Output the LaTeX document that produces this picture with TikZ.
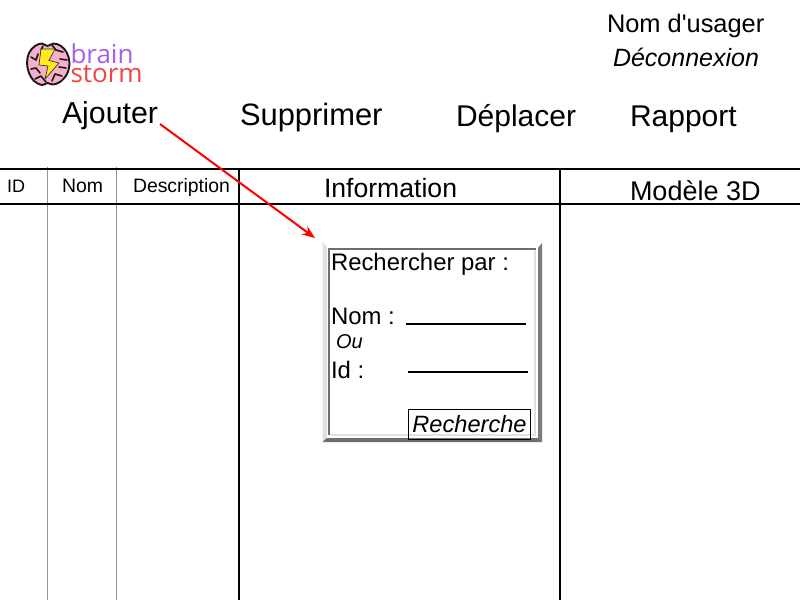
\documentclass[tikz,border=0pt]{standalone}
\usepackage{fontspec}
\setmainfont{Liberation Sans}
\newfontfamily\plainfont{Liberation Sans}
\newfontfamily\logofont{Open Sans}
\usetikzlibrary{arrows.meta}
\definecolor{logopurple}{HTML}{A55FEB}
\definecolor{logored}{HTML}{EF4444}
\definecolor{brainpink}{HTML}{F7B0CC}
\definecolor{boltyellow}{HTML}{FFEB1A}
\definecolor{bevelgray}{HTML}{6E6E6E}
\definecolor{bevellight}{HTML}{E0E0E0}
\tikzset{
  txt/.style={inner sep=0pt,outer sep=0pt,anchor=base west,text=black},
  fs/.style={font=\fontsize{#1}{#1}\selectfont},
  menu/.style={txt,fs=30},
  colhead/.style={txt,fs=19.4},
  form/.style={txt,fs=23.9},
  rule/.style={draw=black,line width=2pt},
  thin rule/.style={draw=gray!85,line width=1pt},
  fold/.style={draw=black!90,line width=1.6pt,line cap=round,line join=round},
}
\begin{document}
\begin{tikzpicture}[x=1pt,y=-1pt]
\useasboundingbox (0,0) rectangle (800,600);
\fill[white] (0,0) rectangle (800,600);
% table
\draw[thin rule] (47,167) -- (47,600);
\draw[thin rule] (116,167) -- (116,600);
\draw[rule] (0,169) -- (800,169);
\draw[rule] (0,204) -- (800,204);
\draw[rule] (239,169) -- (239,600);
\draw[rule] (560,169) -- (560,600);
% header
\node[txt,font=\fontsize{25.4}{25.4}\plainfont] (user) at (607,32) {Nom d'usager};
\node[txt,font=\fontsize{25}{25}\selectfont\itshape] (logout) at (613,66) {Déconnexion};
% logo
\draw[fill=brainpink,draw=black!90,line width=1.9pt] plot[smooth cycle,tension=.6] coordinates {(47.5,46) (53.5,43.5) (61,46) (67,53) (69.5,63) (67,74) (60,82) (52.5,84.5) (47.5,83) (42,85) (34,81) (29,73) (27,63) (29,53) (35,46) (42,43.5)};
\draw[fold] (31,57) -- (36,60) -- (38,54);
\draw[fold] (31,69) -- (36,68) -- (40,73);
\draw[fold] (35,79) -- (41,76) -- (46,82);
\draw[fold] (43,46) -- (41,50);
\draw[fold] (52,45) -- (56,50) -- (63,52);
\draw[fold] (67,60) -- (60,59);
\draw[fold] (59,67) -- (66,68);
\draw[fold] (52,81) -- (55,74) -- (62,76);
\draw[fill=boltyellow,draw=black!80,line width=.7pt] (41,49) -- (55,49) -- (49,60.5) -- (59,63) -- (45,79) -- (48,66) -- (39,65) -- cycle;
\node[txt,text=logopurple,font=\fontsize{26}{26}\logofont] (brain) at (70.5,63.5) {brain};
\node[txt,text=logored,font=\fontsize{26}{26}\logofont] (storm) at (70.5,82.5) {storm};
% menu
\node[menu,fs=30.3] (add) at (62,123) {Ajouter};
\node[menu,fs=30.9] (del) at (240,125) {Supprimer};
\node[menu] (move) at (456,126) {Déplacer};
\node[menu] (report) at (630,126) {Rapport};
% column heads
\node[colhead,fs=18] (cid) at (7,192) {ID};
\node[colhead] (cnom) at (62,192) {Nom};
\node[colhead] (cdesc) at (133,192) {Description};
\node[txt,fs=26.6] (cinfo) at (324,197) {Information};
\node[txt,fs=27] (c3d) at (630,200) {Modèle 3D};
% dialog
\fill[bevellight] (322.5,242) -- (327,247) -- (327,438) -- (322.5,442) -- cycle;
\fill[bevelgray!90] (542,243) -- (538,248) -- (538,438) -- (542,442) -- cycle;
\fill[bevelgray] (322.5,442) -- (542,442) -- (538,438) -- (327,438) -- cycle;
\fill[bevelgray] (328,248) rectangle (536,250);
\fill[bevelgray] (328,248) rectangle (330,435);
\fill[bevellight] (534,250) rectangle (536,436);
\fill[bevellight] (330,434) rectangle (536,436);
\node[form] (title) at (331,270) {Rechercher par :};
\node[form] (lnom) at (331,324) {Nom :};
\node[txt,font=\fontsize{20}{20}\selectfont\itshape] (lou) at (336,348) {Ou};
\node[form] (lid) at (331,378) {Id :};
\coordinate (nomA) at (406,324);
\coordinate (nomB) at (526,324);
\coordinate (idA) at (408,372);
\coordinate (idB) at (528,372);
\draw[rule] (nomA) -- (nomB);
\draw[rule] (idA) -- (idB);
\node[draw=black,line width=1pt,inner sep=0pt,minimum width=122pt,minimum height=30pt,font=\fontsize{23.6}{23.6}\selectfont\itshape] (search) at (469.5,424) {Recherche};
% arrow
\coordinate (arrowFrom) at (160,124);
\coordinate (arrowTo) at (315,238);
\draw[red,line width=2pt,-{Stealth[length=13pt,width=10pt]}] (arrowFrom) -- (arrowTo);
\end{tikzpicture}
\end{document}
